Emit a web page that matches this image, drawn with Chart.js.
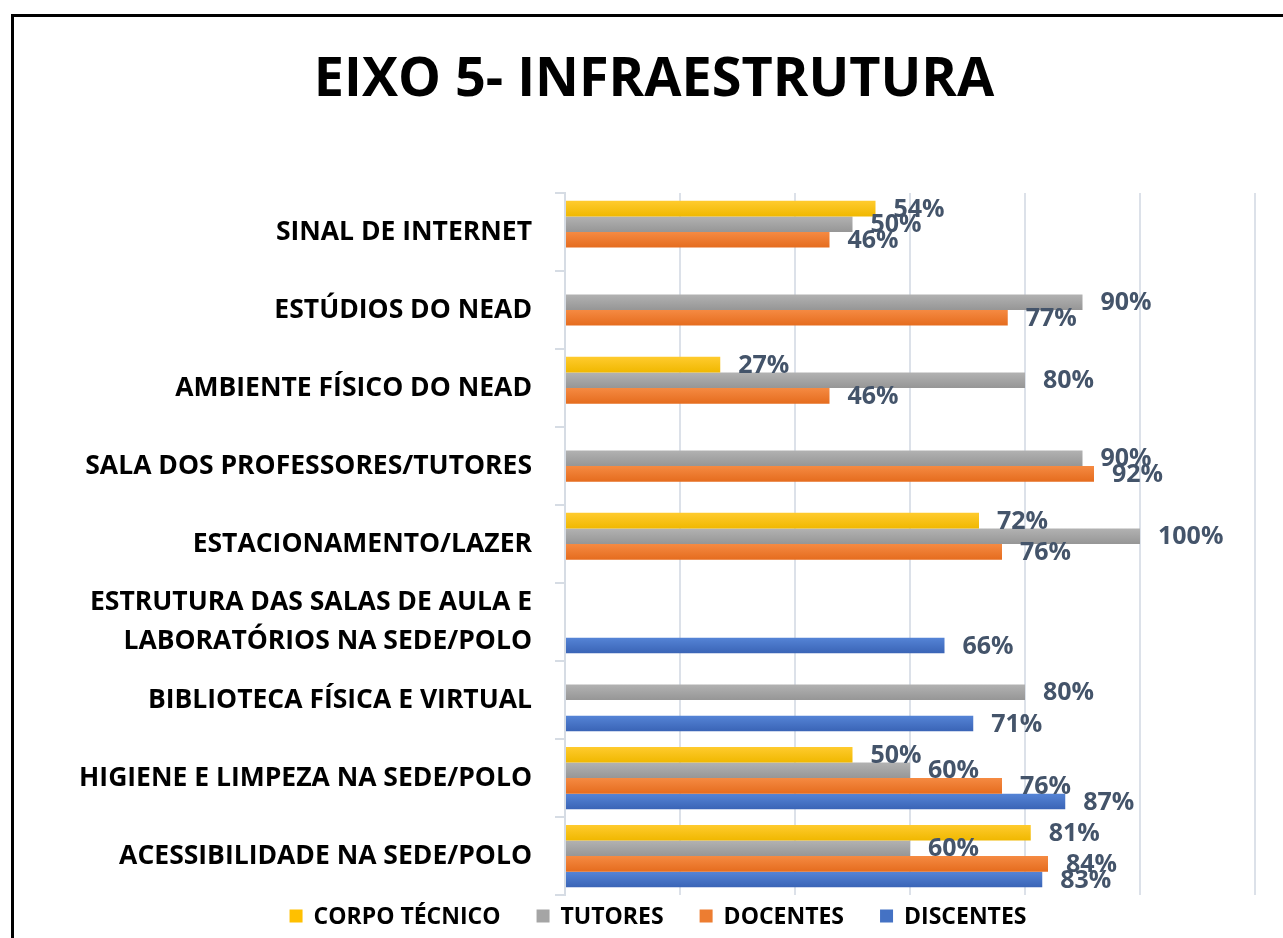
<!DOCTYPE html>
<html>
<head>
<meta charset="utf-8">
<script src="https://cdn.jsdelivr.net/npm/chart.js@4.4.1/dist/chart.umd.min.js"></script>
<style>
  html, body { margin: 0; padding: 0; background: #ffffff; overflow: hidden; }
  #frame { position: absolute; left: 11px; top: 14px; width: 1400px; height: 1000px; border: 3px solid #000; box-sizing: border-box; }
  #wrap { position: absolute; left: 0; top: 0; width: 1283px; height: 938px; }
</style>
</head>
<body>
<div id="frame"></div>
<div id="wrap"><canvas id="c" width="1283" height="938"></canvas></div>
<script>
const chartTitle = 'EIXO 5- INFRAESTRUTURA';
const categories = [
  'SINAL DE INTERNET',
  'ESTÚDIOS DO NEAD',
  'AMBIENTE FÍSICO DO NEAD',
  'SALA DOS PROFESSORES/TUTORES',
  'ESTACIONAMENTO/LAZER',
  ['ESTRUTURA DAS SALAS DE AULA E', 'LABORATÓRIOS NA SEDE/POLO'],
  'BIBLIOTECA FÍSICA E VIRTUAL',
  'HIGIENE E LIMPEZA NA SEDE/POLO',
  'ACESSIBILIDADE NA SEDE/POLO'
];
const seriesNames = ['CORPO TÉCNICO', 'TUTORES', 'DOCENTES', 'DISCENTES'];
const corpoTecnico = [54, null, 27, null, 72, null, null, 50, 81];
const tutores      = [50, 90, 80, 90, 100, null, 80, 60, 60];
const docentes     = [46, 77, 46, 92, 76, null, null, 76, 84];
const discentes    = [null, null, null, null, null, 66, 71, 87, 83];
const xTicks = [0, 20, 40, 60, 80, 100, 120];

const solid = ['#FFC000', '#A5A5A5', '#ED7D31', '#4472C4'];
const gradTop = ['#FFCB2E', '#B2B2B2', '#F58A42', '#5584D6'];
const gradBot = ['#F0B800', '#969696', '#E56C1E', '#3A64B6'];

function grad(i) {
  return (ctx) => {
    const chart = ctx.chart;
    const ys = chart.scales && chart.scales.y;
    if (!chart.chartArea || !ys || ctx.type !== 'data') return solid[i];
    const band = (ys.bottom - ys.top) / categories.length;
    const thick = band * 0.8 / 4;
    const center = ys.getPixelForValue(ctx.dataIndex);
    const y0 = center - band * 0.4 + ctx.datasetIndex * thick;
    const g = chart.ctx.createLinearGradient(0, y0, 0, y0 + thick);
    g.addColorStop(0, gradTop[i]);
    g.addColorStop(1, gradBot[i]);
    return g;
  };
}

const FONT = "'Open Sans', 'DejaVu Sans', sans-serif";

const labelsPlugin = {
  id: 'valueLabels',
  afterDatasetsDraw(chart) {
    const ctx = chart.ctx;
    ctx.save();
    ctx.font = "bold 25px " + FONT;
    ctx.fillStyle = '#44546A';
    ctx.textAlign = 'left';
    ctx.textBaseline = 'middle';
    chart.data.datasets.forEach((ds, di) => {
      const meta = chart.getDatasetMeta(di);
      meta.data.forEach((el, i) => {
        const v = ds.data[i];
        if (v === null || v === undefined) return;
        ctx.fillText(v + '%', el.x + 18, el.y + 1);
      });
    });
    ctx.restore();
  }
};

const titleLegendPlugin = {
  id: 'titleLegend',
  afterDraw(chart) {
    const ctx = chart.ctx;
    ctx.save();
    ctx.font = "bold 54px " + FONT;
    ctx.fillStyle = '#000000';
    ctx.textAlign = 'center';
    ctx.textBaseline = 'middle';
    ctx.fillText(chartTitle, 654, 81);
    ctx.font = "bold 23px " + FONT;
    ctx.textAlign = 'left';
    const box = 13, gapBox = 11, gapItem = 36;
    const widths = seriesNames.map(s => ctx.measureText(s).width);
    const total = widths.reduce((a, w) => a + box + gapBox + w, 0) + gapItem * (seriesNames.length - 1);
    let x = 658 - total / 2;
    const yc = 916;
    seriesNames.forEach((s, i) => {
      ctx.fillStyle = solid[i];
      ctx.fillRect(x, yc - box / 2, box, box);
      x += box + gapBox;
      ctx.fillStyle = '#000000';
      ctx.fillText(s, x, yc + 1);
      x += widths[i] + gapItem;
    });
    ctx.restore();
  }
};

function build() {
  const series = [corpoTecnico, tutores, docentes, discentes];
  new Chart(document.getElementById('c'), {
    type: 'bar',
    data: {
      labels: categories,
      datasets: series.map((d, i) => ({
        label: seriesNames[i],
        data: d,
        backgroundColor: grad(i),
        borderWidth: 0,
        categoryPercentage: 0.8,
        barPercentage: 1.0
      }))
    },
    options: {
      indexAxis: 'y',
      responsive: false,
      animation: false,
      devicePixelRatio: 1,
      layout: { padding: { left: 20, right: 28, top: 193, bottom: 40 } },
      plugins: {
        legend: { display: false },
        title: { display: false },
        tooltip: { enabled: false }
      },
      scales: {
        x: {
          min: 0, max: 120,
          afterBuildTicks(scale) { scale.ticks = xTicks.map(v => ({ value: v })); },
          ticks: { display: false },
          grid: { color: '#DCE1E9', lineWidth: 2, drawTicks: false },
          border: { display: false }
        },
        y: {
          afterFit(scale) { scale.width = 545; },
          ticks: {
            color: '#000000',
            font: { family: FONT, size: 26.5, weight: 'bold', lineHeight: 1.5 },
            padding: 23,
            autoSkip: false
          },
          grid: { drawOnChartArea: false, drawTicks: true, tickLength: 10, color: '#D6DCE4', lineWidth: 2 },
          border: { display: true, color: '#D6DCE4', width: 2 }
        }
      }
    },
    plugins: [labelsPlugin, titleLegendPlugin]
  });
}

if (document.fonts && document.fonts.load) {
  Promise.all([
    document.fonts.load("bold 26px 'Open Sans'"),
    document.fonts.load("bold 54px 'Open Sans'")
  ]).then(build, build);
} else {
  build();
}
</script>
</body>
</html>
